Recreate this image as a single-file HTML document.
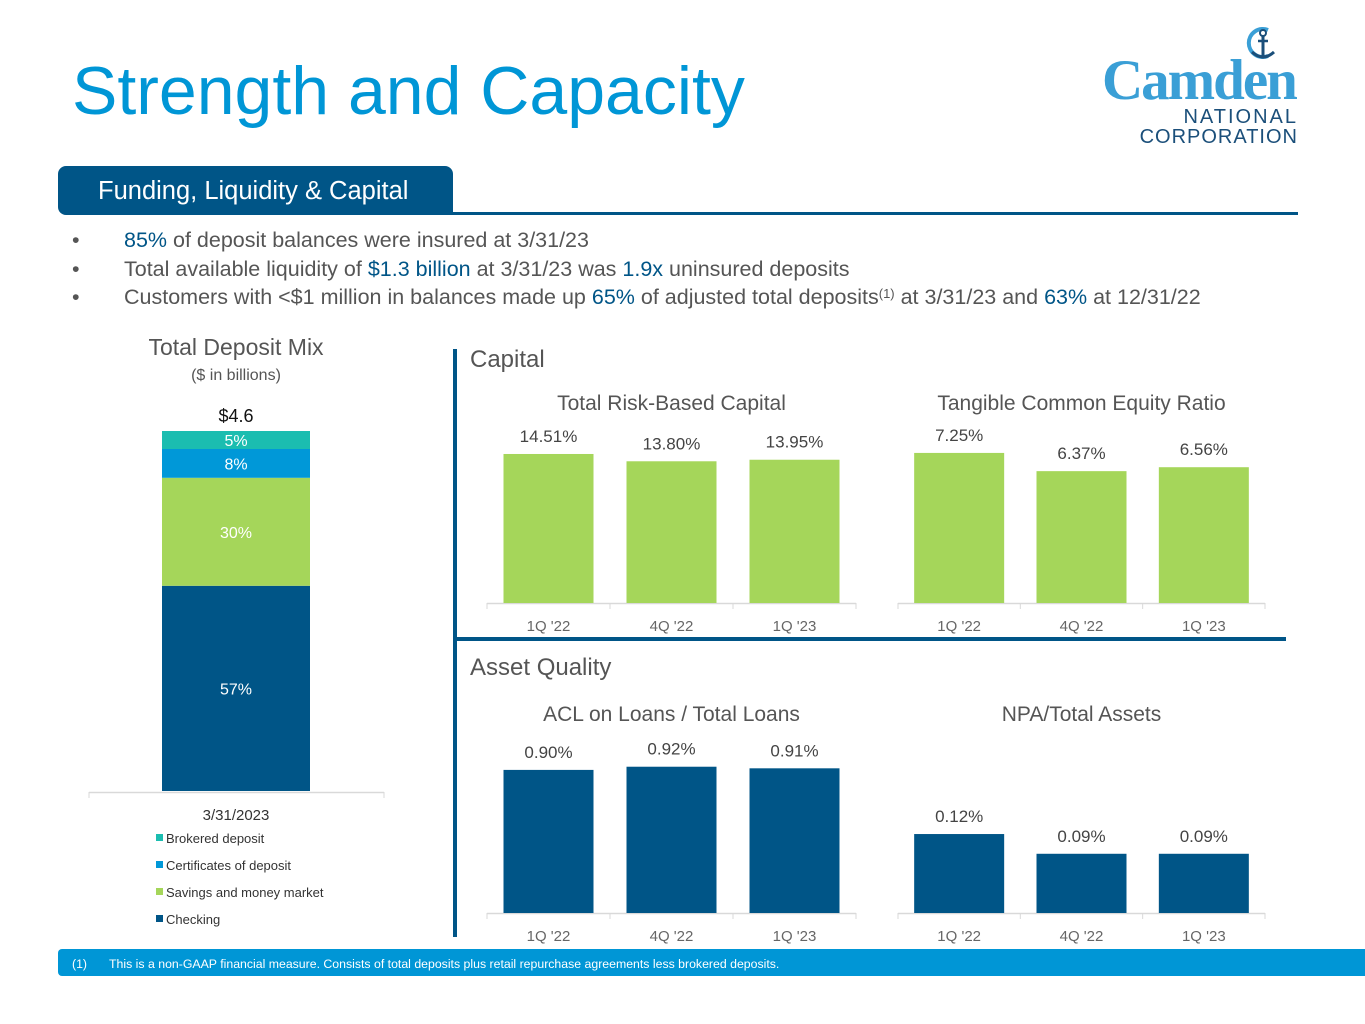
<!DOCTYPE html>
<html><head><meta charset="utf-8">
<style>
body{margin:0;width:1365px;height:1024px;background:#fff;font-family:"Liberation Sans",sans-serif;overflow:hidden;position:relative}
.abs{position:absolute}
svg text{font-family:"Liberation Sans",sans-serif}
.b{color:#005587}
sup{line-height:0;vertical-align:6px}
</style></head><body>
<div class="abs" style="left:72px;top:52px;font-size:68px;color:#0096d6;letter-spacing:0px">Strength and Capacity</div>
<div class="abs" style="left:1100px;top:22px;width:200px;height:125px">
 <svg width="200" height="125">
  <path d="M168,8 A14,14 0 1 0 168,34" fill="none" stroke="#3a9fd6" stroke-width="4"/>
  <line x1="163" y1="14" x2="163" y2="34" stroke="#1b4f7a" stroke-width="3"/>
  <circle cx="163" cy="11" r="3" fill="none" stroke="#1b4f7a" stroke-width="2"/>
  <line x1="158" y1="19" x2="168" y2="19" stroke="#1b4f7a" stroke-width="2.5"/>
  <path d="M152,30 Q163,40 174,30" fill="none" stroke="#1b4f7a" stroke-width="3"/>
 </svg>
 <div class="abs" style="left:2px;top:26px;font-family:'Liberation Serif',serif;font-weight:bold;font-size:57px;color:#3a9fd6;letter-spacing:-2px">Camden</div>
 <div class="abs" style="right:2px;top:84px;font-size:20px;color:#1b4f7a;letter-spacing:2px">NATIONAL</div>
 <div class="abs" style="right:2px;top:104px;font-size:20px;color:#1b4f7a;letter-spacing:1px">CORPORATION</div>
</div>
<div class="abs" style="left:58px;top:166px;width:395px;height:49px;background:#005587;border-radius:8px 8px 0 8px;color:#fff;font-size:25.5px;line-height:50px;box-sizing:border-box;padding-left:40px">Funding, Liquidity &amp; Capital</div>
<div class="abs" style="left:440px;top:212px;width:858px;height:3px;background:#005587"></div>
<div class="abs" style="left:72px;top:226px;font-size:21.5px;color:#555;line-height:28.5px">
 <div><span style="display:inline-block;width:52px">•</span><span class="b">85%</span> of deposit balances were insured at 3/31/23</div>
 <div><span style="display:inline-block;width:52px">•</span>Total available liquidity of <span class="b">$1.3 billion</span> at 3/31/23 was <span class="b">1.9x</span> uninsured deposits</div>
 <div><span style="display:inline-block;width:52px">•</span>Customers with &lt;$1 million in balances made up <span class="b">65%</span> of adjusted total deposits<sup style="font-size:13px">(1)</sup> at 3/31/23 and <span class="b">63%</span> at 12/31/22</div>
</div>
<div class="abs" style="left:453px;top:349px;width:4px;height:588px;background:#005587"></div>
<div class="abs" style="left:455px;top:637px;width:831px;height:4px;background:#005587"></div>
<div class="abs" style="left:58px;top:949px;width:1307px;height:27px;background:#0096d6;color:#fff;font-size:12.3px;line-height:30px;border-radius:4px 0 0 4px"><span style="margin-left:14px;margin-right:22px">(1)</span>This is a non-GAAP financial measure.  Consists of total deposits plus retail repurchase agreements less brokered deposits.</div>
<svg id="charts" class="abs" style="left:0;top:0" width="1365" height="1024"></svg>
<script>
const ns="http://www.w3.org/2000/svg";
const svg=document.getElementById('charts');
const quarters=["1Q '22","4Q '22","1Q '23"];
const trbcValues=[14.51,13.80,13.95];
const tceValues=[7.25,6.37,6.56];
const aclValues=[0.90,0.92,0.91];
const npaValues=[0.12,0.09,0.09];
const mixCategories=["Checking","Savings and money market","Certificates of deposit","Brokered deposit"];
const mixValues=[57,30,8,5];
const mixTotalLabel="$4.6";
const mixDate="3/31/2023";
function el(t,a,txt){const e=document.createElementNS(ns,t);for(const k in a)e.setAttribute(k,a[k]);if(txt!==undefined)e.textContent=txt;svg.appendChild(e);return e;}
function barChart(name,title,titleY,vals,x0,x1,base,scale,color,lblOff){
  const t=el('text',{x:(x0+x1)/2,y:titleY,'text-anchor':'middle','font-size':21,fill:'#555'},title);
  
  
  const ax=el('line',{x1:x0,x2:x1,y1:base+0.5,y2:base+0.5,stroke:'#d9d9d9','stroke-width':1.5});
  
  
  const step=(x1-x0)/vals.length;
  for(let i=0;i<=vals.length;i++){const tk=el('line',{x1:x0+i*step,x2:x0+i*step,y1:base,y2:base+6,stroke:'#d9d9d9'});
    
    }
  vals.forEach((v,i)=>{
    const h=v*scale, cx=x0+step*(i+0.5);
    const r=el('rect',{x:cx-45,y:base-h,width:90,height:h,fill:color});
    
    
    const lb=el('text',{x:cx,y:base-h-lblOff,'text-anchor':'middle','font-size':17,fill:'#444'},v.toFixed(2)+'%');
    
    
    const q=el('text',{x:cx,y:base+28,'text-anchor':'middle','font-size':15,fill:'#666'},quarters[i]);
    
    
  });
}
barChart('trbc','Total Risk-Based Capital',410,trbcValues,487,856,603,10.27,'#a5d65a',12);
barChart('tce','Tangible Common Equity Ratio',410,tceValues,898,1265,603,20.7,'#a5d65a',12);
barChart('acl','ACL on Loans / Total Loans',721,aclValues,487,856,913,159,'#005587',12);
barChart('npa','NPA/Total Assets',721,npaValues,898,1265,913,658,'#005587',12);
const st=[['Capital',367],['Asset Quality',675]];
st.forEach(s=>{const e=el('text',{x:470,y:s[1],'font-size':24,fill:'#555'},s[0]);
  
  });
const mixColors=['#005587','#a5d65a','#0098d8','#1bbdb0'];
const mixText=['#fff','#fff','#fff','#fff'];
let mt=el('text',{x:236,y:355,'text-anchor':'middle','font-size':23,fill:'#555'},'Total Deposit Mix');


mt=el('text',{x:236,y:380,'text-anchor':'middle','font-size':16,fill:'#555'},'($ in billions)');


const mBase=791, mScale=3.6;
let acc=0;
mixValues.forEach((v,i)=>{
  const y=mBase-(acc+v)*mScale, h=v*mScale;
  const r=el('rect',{x:162,y:y,width:148,height:h,fill:mixColors[i]});
  
  
  const l=el('text',{x:236,y:y+h/2+6,'text-anchor':'middle','font-size':16,fill:mixText[i]},v+'%');
  
  
  acc+=v;
});
let tl=el('text',{x:236,y:mBase-acc*mScale-9,'text-anchor':'middle','font-size':18,fill:'#111'},mixTotalLabel);


const max=el('line',{x1:89,x2:384,y1:792.5,y2:792.5,stroke:'#d9d9d9','stroke-width':1.5});


[89,384].forEach(x=>{const k=el('line',{x1:x,x2:x,y1:792,y2:798,stroke:'#d9d9d9'});
  
  });
tl=el('text',{x:236,y:820,'text-anchor':'middle','font-size':15,fill:'#333'},mixDate);


for(let j=0;j<4;j++){
  const i=3-j, y=839+j*27;
  const sw=el('rect',{x:156,y:y-5,width:7,height:7,fill:mixColors[i]});
  
  
  const lt=el('text',{x:166,y:y+4,'font-size':13,fill:'#333'},mixCategories[i]);
  
  
}
</script>
</body></html>
